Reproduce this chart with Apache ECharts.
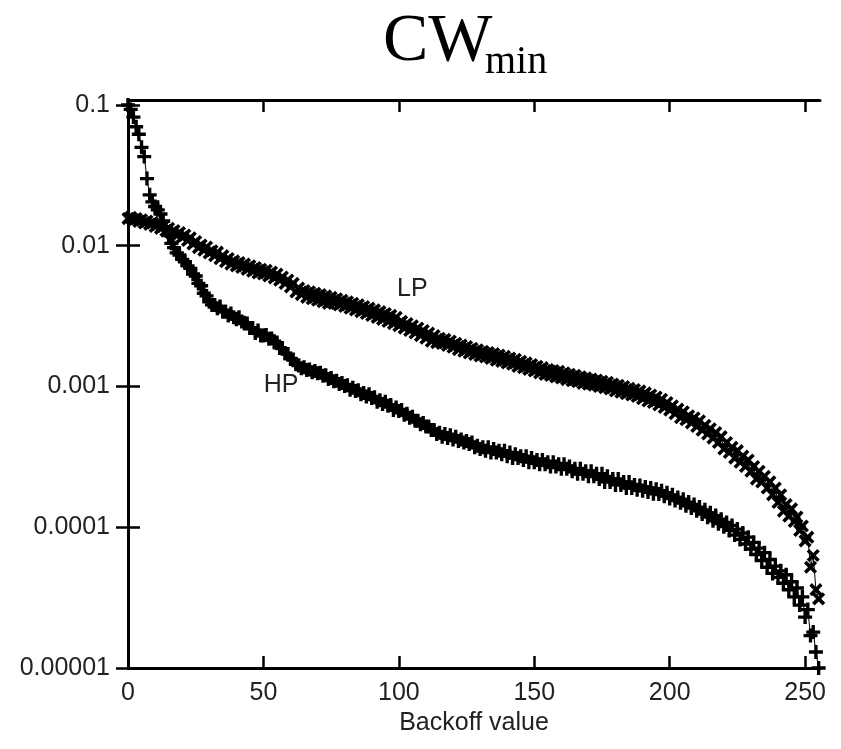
<!DOCTYPE html>
<html>
<head>
<meta charset="utf-8">
<script src="https://cdn.jsdelivr.net/npm/echarts@6/dist/echarts.min.js"></script>
<style>html,body{margin:0;padding:0;background:#fff}#c{width:841px;height:749px}</style>
</head>
<body>
<div id="c"></div>
<script>
// Backoff values 0..255 (one point per integer)
const backoff = Array.from({length:256}, (_, i) => i);

const hp = [
0.100,0.093,0.082,0.070,0.062,0.050,0.043,0.030,0.023,0.0205,
0.0190,0.0180,0.0168,0.0150,0.0136,0.0118,0.0104,0.0097,0.0089,0.0086,
0.0080,0.0077,0.0072,0.0069,0.0063,0.0061,0.0054,0.0052,0.0046,0.0044,
0.0040,0.0038,0.0038,0.0036,0.0037,0.0034,0.0034,0.0032,0.0033,0.0031,
0.0030,0.0031,0.0029,0.0028,0.0028,0.0026,0.0026,0.0024,0.0025,0.0023,
0.0023,0.00232,0.00218,0.00219,0.0021,0.00205,0.00188,0.00186,0.00172,0.00170,
0.00158,0.00154,0.00144,0.00141,0.00135,0.00137,0.00131,0.00132,0.00126,0.00129,
0.00124,0.00125,0.00119,0.00120,0.00113,0.00115,0.00109,0.00110,0.00104,0.00106,
0.00101,0.00102,0.00095,0.00098,0.00093,0.00094,0.00088,0.00090,0.00085,0.00088,
0.00083,0.00084,0.00078,0.00080,0.00075,0.00078,0.00073,0.00074,0.00068,0.00071,
0.00067,0.00068,0.00063,0.00064,0.00060,0.00061,0.00057,0.00057,0.00054,0.00055,
0.00052,0.00052,0.00049,0.00049,0.00046,0.00047,0.00044,0.00046,0.00043,0.00045,
0.00042,0.00044,0.00041,0.00042,0.00040,0.00041,0.00039,0.00040,0.00037,0.00038,
0.00036,0.00037,0.00035,0.00037,0.00034,0.00036,0.00034,0.00035,0.00033,0.00035,
0.00032,0.00034,0.00031,0.00033,0.00031,0.00032,0.00030,0.00032,0.00029,0.00031,
0.00029,0.000300,0.00028,0.00030,0.00028,0.00029,0.00027,0.00029,0.00027,0.00028,
0.00026,0.00028,0.00026,0.00027,0.00025,0.00026,0.00024,0.00026,0.00024,0.00025,
0.00023,0.00025,0.00023,0.00024,0.00022,0.00024,0.00021,0.00023,0.00021,0.00022,
0.00020,0.00022,0.00020,0.00021,0.00019,0.00021,0.00019,0.00020,0.000185,0.000198,
0.000182,0.000193,0.000178,0.000190,0.000173,0.000186,0.000172,0.000182,0.000166,0.000176,
0.000160,0.000170,0.000155,0.000163,0.000149,0.000158,0.000142,0.000151,0.000137,0.000145,
0.000131,0.000139,0.000124,0.000133,0.000118,0.000127,0.000111,0.000121,0.000106,0.000114,
0.000101,0.000108,0.000095,0.000103,0.000088,0.000097,0.000082,0.000091,0.000076,0.000085,
0.000070,0.000078,0.000064,0.000071,0.000058,0.000066,0.000052,0.000059,0.000047,0.000053,
0.000044,0.000049,0.000040,0.000046,0.000036,0.000041,0.000032,0.000037,0.000028,0.000032,
0.000023,0.000026,0.000017,0.000018,0.000013,0.000010
];

const lp = [
0.0156,0.0159,0.0152,0.0156,0.0149,0.0153,0.0145,0.0150,0.0142,0.0146,
0.0137,0.0142,0.0133,0.0138,0.0128,0.0133,0.0123,0.0128,0.0119,0.0124,
0.0115,0.0119,0.0109,0.0114,0.0103,0.0107,0.0097,0.0101,0.0093,0.0098,
0.0089,0.0092,0.0085,0.0090,0.0081,0.0085,0.0077,0.0081,0.0074,0.0078,
0.0072,0.0076,0.0070,0.0074,0.0068,0.0072,0.0066,0.0070,0.0064,0.0068,
0.0063,0.0067,0.0061,0.0065,0.0059,0.0063,0.0057,0.0060,0.0054,0.0057,
0.0051,0.0054,0.0047,0.0050,0.0045,0.0048,0.0043,0.0047,0.0042,0.0046,
0.0041,0.0045,0.0040,0.0044,0.0039,0.0043,0.0039,0.0042,0.0038,0.0041,
0.0037,0.0040,0.0036,0.0039,0.0035,0.0038,0.0034,0.0037,0.0033,0.0036,
0.0032,0.0035,0.0031,0.0034,0.0030,0.0033,0.0029,0.0032,0.0028,0.0031,
0.0027,0.0029,0.0026,0.0028,0.0025,0.0027,0.0024,0.0026,0.0023,0.0025,
0.0022,0.0024,0.0021,0.0023,0.00205,0.0022,0.00202,0.00216,0.00196,0.0021,
0.00190,0.00203,0.00183,0.00197,0.00178,0.00192,0.00173,0.00187,0.00169,0.00182,
0.00165,0.00178,0.00162,0.00174,0.00158,0.00171,0.00154,0.00167,0.00151,0.00164,
0.00147,0.00159,0.00144,0.00156,0.00139,0.00151,0.00136,0.00147,0.00132,0.00143,
0.00129,0.00139,0.00125,0.00136,0.00122,0.00132,0.00120,0.00130,0.00117,0.00128,
0.00115,0.00125,0.00112,0.00122,0.00110,0.00120,0.00108,0.00117,0.00105,0.00115,
0.00104,0.00113,0.00102,0.00111,0.00100,0.00109,0.00098,0.00107,0.00096,0.00104,
0.00093,0.00102,0.00091,0.00100,0.00089,0.00097,0.00087,0.00095,0.00085,0.00093,
0.00082,0.00090,0.00079,0.00087,0.00077,0.00084,0.00074,0.00081,0.00071,0.00077,
0.00068,0.00073,0.00064,0.00069,0.00060,0.00066,0.00058,0.00062,0.00055,0.00060,
0.00052,0.00057,0.00049,0.00053,0.00046,0.00050,0.00043,0.00047,0.00040,0.00044,
0.00036,0.00040,0.00034,0.00037,0.00031,0.00035,0.00029,0.00032,0.00027,0.00030,
0.00025,0.00027,0.00022,0.00025,0.00021,0.00023,0.00019,0.00021,0.00017,0.00019,
0.00015,0.00017,0.00013,0.000145,0.00012,0.000135,0.00011,0.000118,0.000095,0.000102,
0.000080,0.000085,0.000052,0.000063,0.000036,0.000031
];

const xTicks = [0,50,100,150,200,250];
const yTicks = [0.00001,0.0001,0.001,0.01,0.1];
const yTickLabels = ['0.00001','0.0001','0.001','0.01','0.1'];
const curveLabels = [
  {name:'LP', x:105, y:0.0049},
  {name:'HP', x:56.5, y:0.00103}
];

const plusPath = 'path://M3.8,0h2.4v3.8h3.8v2.4h-3.8v3.8h-2.4v-3.8h-3.8v-2.4h3.8z';

const chart = echarts.init(document.getElementById('c'));
const axisLineStyle = {color:'#000', width:3};
const tickStyle = {color:'#000', width:2.5};
const FONT = 'Liberation Sans, Arial, sans-serif';
const labelFont = {fontFamily:FONT, fontSize:25, color:'#222'};

chart.setOption({
  animation:false,
  backgroundColor:'#fff',
  grid:{left:128, right:21, top:100, bottom:81},
  xAxis:[{
    type:'value', min:0, max:255.5, position:'bottom',
    axisLine:{show:true, lineStyle:axisLineStyle},
    axisTick:{show:true, inside:true, length:12, lineStyle:tickStyle, customValues:xTicks},
    axisLabel:Object.assign({margin:13, customValues:xTicks}, labelFont),
    splitLine:{show:false},
    name:'Backoff value', nameLocation:'middle', nameGap:42,
    nameTextStyle:Object.assign({}, labelFont)
  },{
    type:'value', min:0, max:255.5, position:'top',
    axisLine:{show:true, lineStyle:axisLineStyle},
    axisTick:{show:true, inside:true, length:12, lineStyle:tickStyle, customValues:xTicks},
    axisLabel:{show:false},
    splitLine:{show:false}
  }],
  yAxis:[{
    type:'log', min:0.00001, max:0.1085, logBase:10, position:'left',
    axisLine:{show:true, lineStyle:axisLineStyle},
    axisTick:{show:true, inside:true, length:12, lineStyle:tickStyle, customValues:yTicks},
    axisLabel:Object.assign({margin:18, customValues:yTicks, formatter:function(v){
      for (let i=0;i<yTicks.length;i++){ if (Math.abs(Math.log10(v)-Math.log10(yTicks[i]))<1e-6) return yTickLabels[i]; }
      return '';
    }}, labelFont),
    splitLine:{show:false}
  },{
    type:'log', min:0.00001, max:0.1085, logBase:10, position:'right',
    axisLine:{show:true, lineStyle:axisLineStyle},
    axisTick:{show:true, inside:true, length:12, lineStyle:tickStyle, customValues:yTicks},
    axisLabel:{show:false},
    splitLine:{show:false}
  }],
  series:[{
    name:'LP', type:'line', xAxisIndex:0, yAxisIndex:0, clip:false,
    data: backoff.map((b,i)=>[b, lp[i]]),
    symbol: plusPath, symbolRotate:45, symbolSize:15, showAllSymbol:true,
    itemStyle:{color:'#000'}, lineStyle:{color:'#000', width:1}
  },{
    name:'HP', type:'line', xAxisIndex:0, yAxisIndex:0, clip:false,
    data: backoff.map((b,i)=>[b, hp[i]]),
    symbol: plusPath, symbolSize:14, showAllSymbol:true,
    itemStyle:{color:'#000'}, lineStyle:{color:'#000', width:1}
  }],
  graphic:[
    {id:'t1', type:'text', left:383, top:8, style:{text:'CW', font:'68px "Liberation Serif", "Times New Roman", serif', fill:'#000'}},
    {id:'t2', type:'text', left:485, top:42, style:{text:'min', font:'40px "Liberation Serif", "Times New Roman", serif', fill:'#000'}}
  ]
});

const extra = curveLabels.map((c, i) => {
  const p = chart.convertToPixel({gridIndex:0}, [c.x, c.y]);
  return {id:'lab'+i, type:'text', x:p[0], y:p[1], z:100,
    style:{text:c.name, font:'25px ' + FONT, fill:'#222', align:'center', verticalAlign:'middle'}};
});
chart.setOption({graphic: extra});
</script>
</body>
</html>
